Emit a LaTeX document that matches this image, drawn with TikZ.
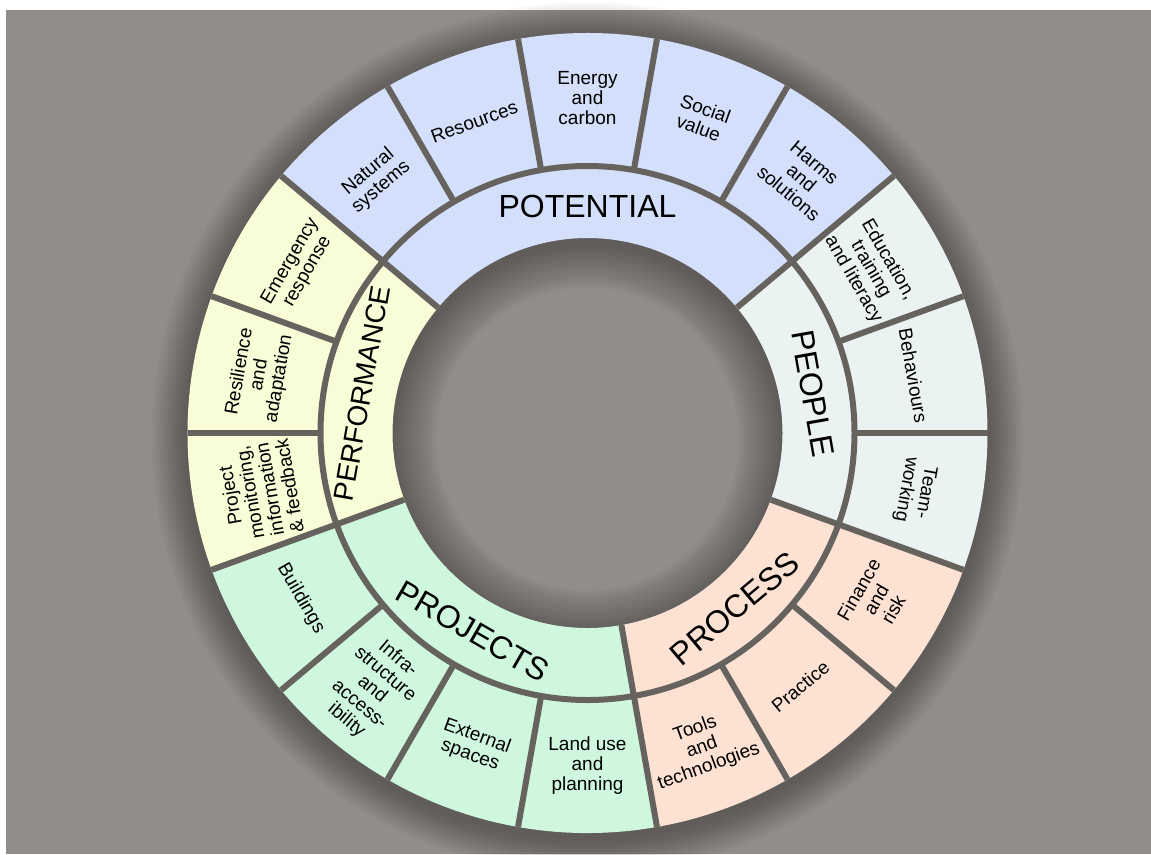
\documentclass[tikz,border=0pt]{standalone}
\usepackage{fontspec}
\setmainfont{Liberation Sans}
\definecolor{bg}{RGB}{146,141,138}
\definecolor{sep}{RGB}{102,98,94}
\definecolor{cpot}{RGB}{211,223,251}
\definecolor{cpeo}{RGB}{234,243,242}
\definecolor{cpro}{RGB}{253,226,212}
\definecolor{cprj}{RGB}{207,247,222}
\definecolor{cper}{RGB}{248,252,215}
\newcommand{\ringsector}[5]{%
  \fill[#1] (#2:#5) arc[start angle=#2, end angle=#3, radius=#5] -- (#3:#4) arc[start angle=#3, end angle=#2, radius=#4] -- cycle;}
\tikzset{
  seglabel/.style={font=\fontsize{19}{20}\selectfont, align=center, inner sep=0pt, text=black},
  catlabel/.style={font=\fontsize{32}{34}\selectfont, inner sep=0pt, text=black},
  sepline/.style={draw=sep, line width=6pt},
}
\begin{document}
\begin{tikzpicture}[x=1pt,y=1pt]
\fill[white] (0,0) rectangle (1151,-854);
\fill[bg] (6,-10) rectangle (1151,-854);
\useasboundingbox (0,0) rectangle (1151,-854);
\begin{scope}[shift={(587.5,-433)}]
\coordinate (O) at (0,0);
% outer drop shadow
\foreach \i in {1,...,18}{
  \fill[black, opacity=0.018, even odd rule] (0,-5) circle ({400+2*\i}) (0,0) circle (385);
}
% inner shadow in the hole
\foreach \i in {1,...,22}{
  \fill[black, opacity=0.016, even odd rule] (0,0) circle (195) (0,-6) circle ({195-2*\i});
}
% category sectors
\ringsector{cpot}{40}{140}{195}{400}
\ringsector{cper}{140}{200}{195}{400}
\ringsector{cprj}{200}{280}{195}{400}
\ringsector{cpro}{280}{340}{195}{400}
\ringsector{cpeo}{340}{400}{195}{400}
% separators
\draw[sepline] (O) circle (267);
\foreach \a in {0,20,...,340}{
  \draw[sepline] (\a:267) -- (\a:400);
}
\foreach \a in {40,140,200,280,340}{
  \draw[sepline] (\a:195) -- (\a:267);
}
% category labels
\node[catlabel] (potential) at (90:227) {POTENTIAL};
\node[catlabel, rotate=-80] (people) at (10:229) {PEOPLE};
\node[catlabel, rotate=40] (process) at (-50:229) {PROCESS};
\node[catlabel, rotate=-30] (projects) at (-120:229) {PROJECTS};
\node[catlabel, font=\fontsize{28}{30}\selectfont, rotate=80] (performance) at (170:229) {PERFORMANCE};
% segment labels
\node[seglabel, rotate=40] (natural) at (130:331) {Natural\\systems};
\node[seglabel, rotate=20] (resources) at (110:331) {Resources};
\node[seglabel, rotate=0] (energy) at (90:335) {Energy\\and\\carbon};
\node[seglabel, rotate=-20] (social) at (70:335) {Social\\value};
\node[seglabel, rotate=-40] (harms) at (50:333) {Harms\\and\\solutions};
\node[seglabel, rotate=-60] (education) at (30:327) {Education,\\training\\and literacy};
\node[seglabel, rotate=-80] (behaviours) at (10:331) {Behaviours};
\node[seglabel, rotate=-100] (team) at (-10:333) {Team-\\working};
\node[seglabel, rotate=60] (finance) at (-30:333) {Finance\\and\\risk};
\node[seglabel, rotate=40] (practice) at (-50:331) {Practice};
\node[seglabel, rotate=20] (tools) at (-70:335) {Tools\\and\\technologies};
\node[seglabel, rotate=0] (landuse) at (-90:333) {Land use\\and\\planning};
\node[seglabel, rotate=-20] (external) at (-110:333) {External\\spaces};
\node[seglabel, rotate=-40] (infra) at (-130:335) {Infra-\\structure\\and\\access-\\ibility};
\node[seglabel, rotate=-60] (buildings) at (-150:331) {Buildings};
\node[seglabel, rotate=100] (monitoring) at (190:333) {Project\\monitoring,\\information\\\& feedback};
\node[seglabel, rotate=80] (resilience) at (170:333) {Resilience\\and\\adaptation};
\node[seglabel, rotate=60] (emergency) at (150:333) {Emergency\\response};
\end{scope}
\end{tikzpicture}
\end{document}
